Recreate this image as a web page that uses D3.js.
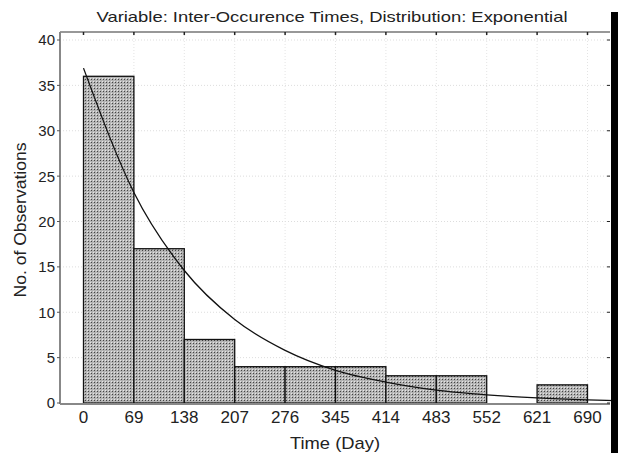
<!DOCTYPE html>
<html>
<head>
<meta charset="utf-8">
<script src="https://cdn.jsdelivr.net/npm/d3@7"></script>
<style>
  body { margin: 0; background: #fff; }
  text { font-family: "Liberation Sans", Arial, sans-serif; fill: #222; }
</style>
</head>
<body>
<div id="chart"></div>
<script>
// histogram bins (days) and observed counts
const binEdges = [0, 69, 138, 207, 276, 345, 414, 483, 552, 621, 690];
const counts = [36, 17, 7, 4, 4, 4, 3, 3, 0, 2];
const yTicks = [0, 5, 10, 15, 20, 25, 30, 35, 40];
// fitted exponential curve at the bin edges
const curveX = [0, 69, 138, 207, 276, 345, 414, 483, 552, 621, 690, 727];
const curveY = [36.9, 23.2, 14.6, 9.2, 5.8, 3.6, 2.3, 1.42, 0.9, 0.56, 0.35, 0.27];

const width = 618, height = 453;
const margin = { top: 32, right: 8, bottom: 49, left: 60 };

const svg = d3.select("#chart").append("svg")
  .attr("width", width)
  .attr("height", height);

const x = d3.scaleLinear().domain([0, 690]).range([83.5, 587.5]);
const y = d3.scaleLinear().domain([0, 40]).range([403, 40]);
const plotRight = width - margin.right;

// stipple pattern for the bars
const defs = svg.append("defs");
const pat = defs.append("pattern")
  .attr("id", "stipple")
  .attr("width", 3).attr("height", 3)
  .attr("patternUnits", "userSpaceOnUse");
pat.append("rect").attr("width", 3).attr("height", 3).attr("fill", "#b4b4b4");
pat.append("rect").attr("x", 1).attr("y", 1).attr("width", 1).attr("height", 1).attr("fill", "#444");
pat.append("rect").attr("x", 0).attr("y", 0).attr("width", 1).attr("height", 1).attr("fill", "#e6e6e6");

// grid
svg.append("g").selectAll("line")
  .data(yTicks.filter(d => d > 0))
  .enter().append("line")
  .attr("x1", margin.left).attr("x2", plotRight)
  .attr("y1", d => y(d)).attr("y2", d => y(d))
  .attr("stroke", "#ddd").attr("stroke-dasharray", "1,2");

svg.append("g").selectAll("line")
  .data(binEdges.slice(1))
  .enter().append("line")
  .attr("x1", d => x(d)).attr("x2", d => x(d))
  .attr("y1", margin.top).attr("y2", y(0))
  .attr("stroke", "#e4e4e4").attr("stroke-dasharray", "1,2");

// bars
const bins = counts.map((c, i) => ({ x0: binEdges[i], x1: binEdges[i + 1], n: c }));
svg.append("g").selectAll("rect")
  .data(bins.filter(d => d.n > 0))
  .enter().append("rect")
  .attr("x", d => x(d.x0))
  .attr("y", d => y(d.n))
  .attr("width", d => x(d.x1) - x(d.x0))
  .attr("height", d => y(0) - y(d.n))
  .attr("fill", "url(#stipple)")
  .attr("stroke", "#111")
  .attr("stroke-width", 1.3);

// fitted curve
const line = d3.line()
  .x(d => x(d[0]))
  .y(d => y(d[1]))
  .curve(d3.curveMonotoneX);
svg.append("path")
  .datum(curveX.map((v, i) => [v, curveY[i]]))
  .attr("d", line)
  .attr("fill", "none")
  .attr("stroke", "#111")
  .attr("stroke-width", 1.3);

// frame
svg.append("line")
  .attr("x1", margin.left).attr("x2", plotRight)
  .attr("y1", margin.top).attr("y2", margin.top)
  .attr("stroke", "#333").attr("stroke-width", 1.2);
svg.append("line")
  .attr("x1", margin.left).attr("x2", margin.left)
  .attr("y1", margin.top).attr("y2", y(0) + 1)
  .attr("stroke", "#888").attr("stroke-width", 2);
svg.append("line")
  .attr("x1", margin.left).attr("x2", plotRight)
  .attr("y1", y(0) + 1).attr("y2", y(0) + 1)
  .attr("stroke", "#888").attr("stroke-width", 2);

// top ticks
svg.append("g").selectAll("line")
  .data(binEdges)
  .enter().append("line")
  .attr("x1", d => x(d)).attr("x2", d => x(d))
  .attr("y1", margin.top).attr("y2", margin.top + 3)
  .attr("stroke", "#222").attr("stroke-width", 1.5);

// y axis
const yAxis = svg.append("g");
yAxis.selectAll("line")
  .data(yTicks)
  .enter().append("line")
  .attr("x1", margin.left - 3).attr("x2", margin.left)
  .attr("y1", d => y(d)).attr("y2", d => y(d))
  .attr("stroke", "#555");
yAxis.selectAll("text")
  .data(yTicks)
  .enter().append("text")
  .attr("x", margin.left - 5)
  .attr("y", d => y(d))
  .attr("dy", "0.36em")
  .attr("text-anchor", "end")
  .style("font-size", "15px")
  .text(d => d);

// right ticks
svg.append("g").selectAll("line")
  .data(yTicks)
  .enter().append("line")
  .attr("x1", plotRight - 3).attr("x2", plotRight)
  .attr("y1", d => y(d)).attr("y2", d => y(d))
  .attr("stroke", "#222");

// x axis labels
svg.append("g").selectAll("text")
  .data(binEdges)
  .enter().append("text")
  .attr("x", d => x(d))
  .attr("y", 423)
  .attr("text-anchor", "middle")
  .style("font-size", "17px")
  .text(d => d);

// scan border on the right
svg.append("rect")
  .attr("x", 611).attr("y", 12)
  .attr("width", 7).attr("height", height - 12)
  .attr("fill", "#000");

// titles
svg.append("text")
  .attr("x", 332).attr("y", 22)
  .attr("text-anchor", "middle")
  .attr("textLength", 471)
  .attr("lengthAdjust", "spacingAndGlyphs")
  .style("font-size", "15px")
  .text("Variable: Inter-Occurence Times, Distribution: Exponential");

svg.append("text")
  .attr("x", 335).attr("y", 449)
  .attr("text-anchor", "middle")
  .attr("textLength", 90)
  .attr("lengthAdjust", "spacingAndGlyphs")
  .style("font-size", "17px")
  .text("Time (Day)");

svg.append("text")
  .attr("transform", "translate(26,220) rotate(-90)")
  .attr("text-anchor", "middle")
  .attr("textLength", 155)
  .attr("lengthAdjust", "spacingAndGlyphs")
  .style("font-size", "17px")
  .text("No. of Observations");
</script>
</body>
</html>
